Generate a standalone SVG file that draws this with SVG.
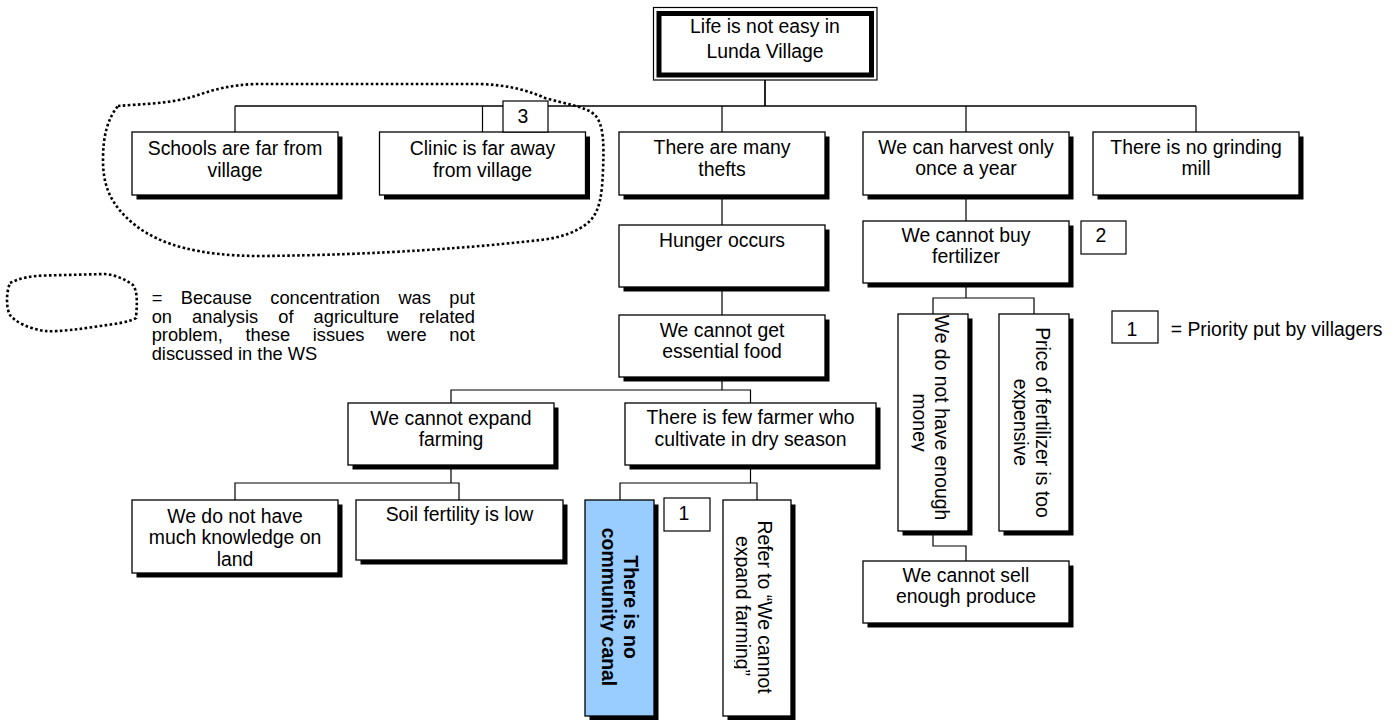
<svg xmlns="http://www.w3.org/2000/svg" width="1399" height="720" viewBox="0 0 1399 720">
  <defs>
    <style>
      .bx{fill:#fff;stroke:#000;stroke-width:1.3}
      .blue{fill:#99ccff;stroke:#000;stroke-width:1.3}
      .sh{fill:#000}
      .t{font-family:"Liberation Sans",Arial,Helvetica,sans-serif;font-size:19.4px;fill:#000;text-anchor:middle}
      .b{font-weight:bold}
      .lg{font-family:"Liberation Sans",Arial,Helvetica,sans-serif;font-size:18.3px;fill:#000}
      .c{fill:none;stroke:#000;stroke-width:1.2}
      .c2{fill:none;stroke:#000;stroke-width:1.7}
      .dot{fill:none;stroke:#000;stroke-width:2.6;stroke-dasharray:2.6 2.4}
      .num{fill:#fff;stroke:#000;stroke-width:1.2}
    </style>
    <!-- last lines of the upright text frames lose their descenders -->
    <clipPath id="cpCanal"><rect x="-150" y="-60" width="300" height="79"/></clipPath>
    <clipPath id="cpRefer"><rect x="-150" y="-60" width="300" height="83"/></clipPath>
    <clipPath id="cpMoney"><rect x="-150" y="-60" width="300" height="81.5"/></clipPath>
    <clipPath id="cpPrice"><rect x="-150" y="-60" width="300" height="82"/></clipPath>
  </defs>

  <rect width="1399" height="720" fill="#fff"/>

  <!-- tree connectors -->
  <g id="connectors">
    <path class="c2" d="M765 80V106M235 106H1196"/>
    <path class="c" d="M235 106V132M482.5 106V132M722 106V132M966 106V132M1196 106V132"/>
    <path class="c" d="M722 195V225M722 287V315"/>
    <path class="c" d="M722 377V390M451 403V390H750.5V403"/>
    <path class="c" d="M451 465V483M235 500V483H459V500"/>
    <path class="c" d="M750.5 465V483M620 500V483H757V500"/>
    <path class="c" d="M966 195V221M966 283V298M933 314V298H1034V314"/>
    <path class="c" d="M933 531V546H966V561"/>
  </g>

  <!-- root problem -->
  <g id="root">
    <rect x="653.5" y="7.5" width="223.5" height="72.5" fill="#fff" stroke="#000" stroke-width="1.2"/>
    <rect x="659" y="13.5" width="212.5" height="61.5" fill="none" stroke="#000" stroke-width="5"/>
    <text class="t" x="765" y="33.3">Life is not easy in</text>
    <text class="t" x="765" y="58.3">Lunda Village</text>
  </g>

  <g id="schools">
    <rect class="sh" x="136.5" y="136.5" width="206" height="63"/>
    <rect class="bx" x="132" y="132" width="206" height="63"/>
    <text class="t" x="235" y="155">Schools are far from</text>
    <text class="t" x="235" y="176.5">village</text>
  </g>

  <g id="clinic">
    <rect class="sh" x="384" y="136.5" width="206" height="63"/>
    <rect class="bx" x="379.5" y="132" width="206" height="63"/>
    <text class="t" x="482.5" y="155">Clinic is far away</text>
    <text class="t" x="482.5" y="176.5">from village</text>
  </g>

  <g id="thefts">
    <rect class="sh" x="623.5" y="136.5" width="206" height="63"/>
    <rect class="bx" x="619" y="132" width="206" height="63"/>
    <text class="t" x="722" y="154">There are many</text>
    <text class="t" x="722" y="176">thefts</text>
  </g>

  <g id="harvest">
    <rect class="sh" x="867.5" y="136.5" width="206" height="63"/>
    <rect class="bx" x="863" y="132" width="206" height="63"/>
    <text class="t" x="966" y="153.5">We can harvest only</text>
    <text class="t" x="966" y="175">once a year</text>
  </g>

  <g id="grinding">
    <rect class="sh" x="1097.5" y="136.5" width="206" height="63"/>
    <rect class="bx" x="1093" y="132" width="206" height="63"/>
    <text class="t" x="1196" y="153.5">There is no grinding</text>
    <text class="t" x="1196" y="175">mill</text>
  </g>

  <g id="hunger">
    <rect class="sh" x="623.5" y="229.5" width="206" height="62"/>
    <rect class="bx" x="619" y="225" width="206" height="62"/>
    <text class="t" x="722" y="246.5">Hunger occurs</text>
  </g>

  <g id="essential-food">
    <rect class="sh" x="623.5" y="319.5" width="206" height="62"/>
    <rect class="bx" x="619" y="315" width="206" height="62"/>
    <text class="t" x="722" y="337">We cannot get</text>
    <text class="t" x="722" y="358">essential food</text>
  </g>

  <g id="buy-fertilizer">
    <rect class="sh" x="867.5" y="225.5" width="206" height="62"/>
    <rect class="bx" x="863" y="221" width="206" height="62"/>
    <text class="t" x="966" y="242">We cannot buy</text>
    <text class="t" x="966" y="263">fertilizer</text>
  </g>

  <g id="expand-farming">
    <rect class="sh" x="352.5" y="407.5" width="206" height="62"/>
    <rect class="bx" x="348" y="403" width="206" height="62"/>
    <text class="t" x="451" y="424.5">We cannot expand</text>
    <text class="t" x="451" y="446">farming</text>
  </g>

  <g id="few-farmers">
    <rect class="sh" x="629.5" y="407.5" width="251" height="62"/>
    <rect class="bx" x="625" y="403" width="251" height="62"/>
    <text class="t" x="750.5" y="424">There is few farmer who</text>
    <text class="t" x="750.5" y="445.5">cultivate in dry season</text>
  </g>

  <g id="knowledge">
    <rect class="sh" x="136.5" y="504.5" width="206" height="73"/>
    <rect class="bx" x="132" y="500" width="206" height="73"/>
    <text class="t" x="235" y="522.5">We do not have</text>
    <text class="t" x="235" y="544">much knowledge on</text>
    <text class="t" x="235" y="565.5">land</text>
  </g>

  <g id="soil">
    <rect class="sh" x="360.5" y="504.5" width="207" height="60"/>
    <rect class="bx" x="356" y="500" width="207" height="60"/>
    <text class="t" x="459.5" y="521">Soil fertility is low</text>
  </g>

  <g id="canal">
    <rect class="sh" x="589.5" y="504.5" width="69" height="220"/>
    <rect class="blue" x="585" y="500" width="69" height="216"/>
    <g transform="translate(619.5 607) rotate(90)">
      <text class="t b" x="0" y="-4">There is no</text>
      <text class="t b" x="0" y="17.5" clip-path="url(#cpCanal)">community canal</text>
    </g>
  </g>

  <g id="refer">
    <rect class="sh" x="727.5" y="504.5" width="68" height="216"/>
    <rect class="bx" x="723" y="500" width="68" height="216"/>
    <g transform="translate(757 607) rotate(90)">
      <text class="t" x="0" y="-0.7">Refer to “We cannot</text>
      <text class="t" x="-1" y="21" clip-path="url(#cpRefer)">expand farming”</text>
    </g>
  </g>

  <g id="no-money">
    <rect class="sh" x="902.5" y="318.5" width="70" height="217"/>
    <rect class="bx" x="898" y="314" width="70" height="217"/>
    <g transform="translate(933 422.5) rotate(90)">
      <text class="t" x="-5" y="-2">We do not have enough</text>
      <text class="t" x="0" y="20.5" clip-path="url(#cpMoney)">money</text>
    </g>
  </g>

  <g id="price">
    <rect class="sh" x="1003.5" y="318.5" width="70" height="217"/>
    <rect class="bx" x="999" y="314" width="70" height="217"/>
    <g transform="translate(1034 422.5) rotate(90)">
      <text class="t" x="0" y="-2">Price of fertilizer is too</text>
      <text class="t" x="0" y="20" clip-path="url(#cpPrice)">expensive</text>
    </g>
  </g>

  <g id="sell-produce">
    <rect class="sh" x="867.5" y="565.5" width="206" height="62"/>
    <rect class="bx" x="863" y="561" width="206" height="62"/>
    <text class="t" x="966" y="582">We cannot sell</text>
    <text class="t" x="966" y="603">enough produce</text>
  </g>

  <!-- priority ranks -->
  <g id="rank-3">
    <rect class="num" x="503" y="101" width="45" height="31"/>
    <text class="t" x="523" y="122.7">3</text>
  </g>
  <g id="rank-2">
    <rect class="num" x="1081" y="221" width="45" height="33"/>
    <text class="t" x="1101" y="242">2</text>
  </g>
  <g id="rank-1">
    <rect class="num" x="664" y="498" width="46" height="33"/>
    <text class="t" x="684" y="520">1</text>
  </g>

  <!-- issues set aside -->
  <path id="set-aside" class="dot" d="M118 106C140 104 170 104 195 96C215 89 232 85 255 84L480 84C505 85 525 89 545 98C565 104 585 106 595 115C604 125 604 145 603 170C602 195 600 210 590 221C578 232 560 238 540 240C480 247 380 255 260 256C200 256 160 245 135 225C110 205 103 185 103 160C103 135 108 118 118 106Z"/>

  <!-- legends -->
  <g id="legend-dotted">
    <path class="dot" d="M10 283C20 278 30 276 45 275.5L105 274C115 275 125 279 133 285C138 292 137 305 136 318C130 322 115 324 100 326C80 329 60 332 45 331C30 329 15 322 10 315C6 308 6 293 10 283Z"/>
    <text class="lg" x="151.7" y="304" word-spacing="13.3">= Because concentration was put</text>
    <text class="lg" x="151.7" y="322.5" word-spacing="15">on analysis of agriculture related</text>
    <text class="lg" x="151.7" y="341" word-spacing="17.5">problem, these issues were not</text>
    <text class="lg" x="151.7" y="359.5">discussed in the WS</text>
  </g>

  <g id="legend-priority">
    <rect class="num" x="1112" y="311" width="46" height="32"/>
    <text class="t" x="1132" y="336">1</text>
    <text class="t" x="1170.7" y="336" style="text-anchor:start">= Priority put by villagers</text>
  </g>
</svg>
